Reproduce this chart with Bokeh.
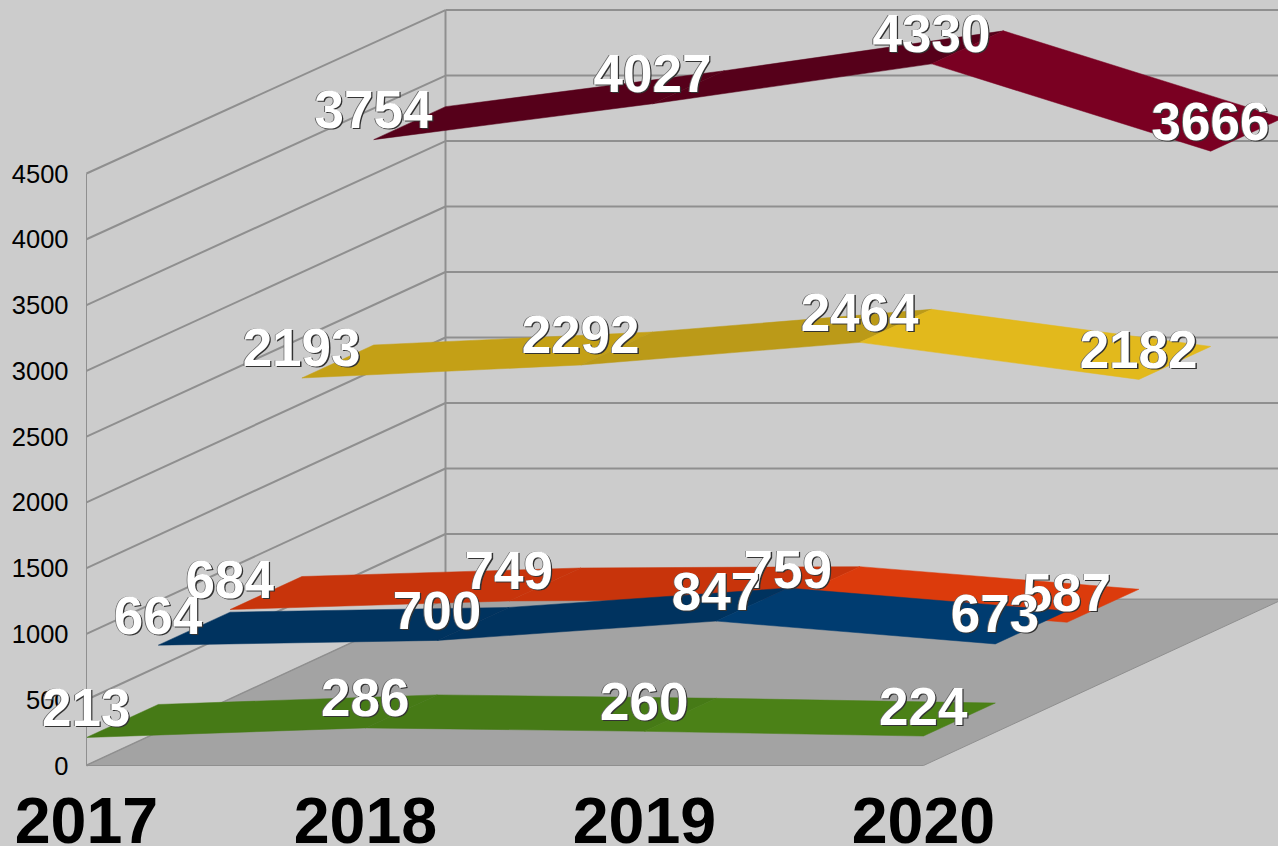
from bokeh.plotting import figure
from bokeh.models import FixedTicker, Range1d
from bokeh.core.properties import value
from bokeh.embed import file_html
from bokeh.resources import INLINE

years = ["2017", "2018", "2019", "2020"]
green = [213, 286, 260, 224]
blue = [664, 700, 847, 673]
red = [684, 749, 759, 587]
yellow = [2193, 2292, 2464, 2182]
maroon = [3754, 4027, 4330, 3666]
value_ticks = [0, 500, 1000, 1500, 2000, 2500, 3000, 3500, 4000, 4500]

series = [green, blue, red, yellow, maroon]
shades = [
    ["#467a16", "#467a16", "#4b8117"],
    ["#00335f", "#00335f", "#003c70"],
    ["#c8340b", "#c8340b", "#dc3b0c"],
    ["#c4a016", "#bb9a18", "#e2b91c"],
    ["#56001a", "#56001a", "#7a0022"],
]

W, H = 1278, 846
PX_X = 279.0            # pixels per category
PX_Y = 592 / 4500       # pixels per value unit
X0, Y0 = 86, 765        # pixel of category 0, value 0
DX = 71.8 / PX_X        # one depth slot, in category units
DY = 33.0 / PX_Y        # one depth slot, in value units
SLOTS = 5
WALL_SCALE = 0.9957     # the back wall is very slightly smaller than the front plane
WALL_LIFT = 166 / PX_Y

GRID = "#8f8f8f"
BG = "#cccccc"

p = figure(width=W, height=H, output_backend="svg", toolbar_location=None,
           x_range=Range1d(-X0 / PX_X, (W - X0) / PX_X),
           y_range=Range1d(-(H - Y0) / PX_Y, Y0 / PX_Y),
           min_border=0, background_fill_color=BG, border_fill_color=BG,
           outline_line_color=None)
p.grid.visible = False

# axes placed on the front plane
p.yaxis.fixed_location = 0
p.yaxis.ticker = FixedTicker(ticks=value_ticks)
p.yaxis.bounds = (0, 4500)
p.yaxis.axis_line_color = GRID
p.yaxis.major_tick_line_color = None
p.yaxis.minor_tick_line_color = None
p.yaxis.major_label_standoff = 12
p.yaxis.major_label_text_font = "Liberation Sans"
p.yaxis.major_label_text_font_size = "25.5px"
p.yaxis.major_label_text_color = "#000000"

p.xaxis.fixed_location = 0
p.xaxis.ticker = FixedTicker(ticks=list(range(len(years))))
p.xaxis.major_label_overrides = {i: y for i, y in enumerate(years)}
p.xaxis.axis_line_color = None
p.xaxis.major_tick_line_color = None
p.xaxis.minor_tick_line_color = None
p.xaxis.major_label_standoff = 26
p.xaxis.major_label_text_font = "Liberation Sans"
p.xaxis.major_label_text_font_style = "bold"
p.xaxis.major_label_text_font_size = "64.5px"
p.xaxis.major_label_text_color = "#000000"

last = len(years) - 1
back_x = SLOTS * DX
wall_y = [v * WALL_SCALE + WALL_LIFT for v in value_ticks]

# walls: grid lines running back and across
p.segment([0] * len(value_ticks), value_ticks,
          [back_x] * len(value_ticks), wall_y,
          line_color=GRID, line_width=2)
p.segment([back_x] * len(value_ticks), wall_y,
          [last + back_x + 1] * len(value_ticks), wall_y,
          line_color=GRID, line_width=2)
p.segment([back_x], [wall_y[0]], [back_x], [wall_y[-1]],
          line_color=GRID, line_width=2)

# floor
p.patch([0, last, last + back_x, back_x], [0, 0, wall_y[0], wall_y[0]],
        fill_color="#a3a3a3", line_color="#8f8f8f", line_width=1, line_join="round")

# ribbons, back to front
for depth in reversed(range(SLOTS)):
    vals = series[depth]
    xs, ys, cols = [], [], []
    for i in range(last):
        xs.append([i + depth * DX, i + 1 + depth * DX,
                   i + 1 + (depth + 1) * DX, i + (depth + 1) * DX])
        ys.append([vals[i] + depth * DY, vals[i + 1] + depth * DY,
                   vals[i + 1] + (depth + 1) * DY, vals[i] + (depth + 1) * DY])
        cols.append(shades[depth][i])
    p.patches(xs, ys, fill_color=cols, line_color=cols, line_width=0.5, line_join="round")

# value labels with a hard shadow, front series on top
for depth in reversed(range(SLOTS)):
    vals = series[depth]
    xs = [i + depth * DX for i in range(len(vals))]
    ys = [v + depth * DY for v in vals]
    txt = [str(v) for v in vals]
    for dx, dy, col in [(-1.2, -30, "#666666"), (1, -29, "#333333"), (-0.3, -30, "#ffffff")]:
        r = p.text(xs, ys, text=txt, text_color=col, text_align="center",
                   text_baseline="alphabetic", x_offset=dx, y_offset=dy,
                   text_font=value("Liberation Sans"), text_font_style="bold",
                   text_font_size="53px")
        r.level = "overlay"

template = """{% block postamble %}<style>html,body{margin:0;padding:0;background:#cccccc;overflow:hidden}</style>{% endblock %}
"""
open("out.html", "w").write(file_html(p, INLINE, template=template))
